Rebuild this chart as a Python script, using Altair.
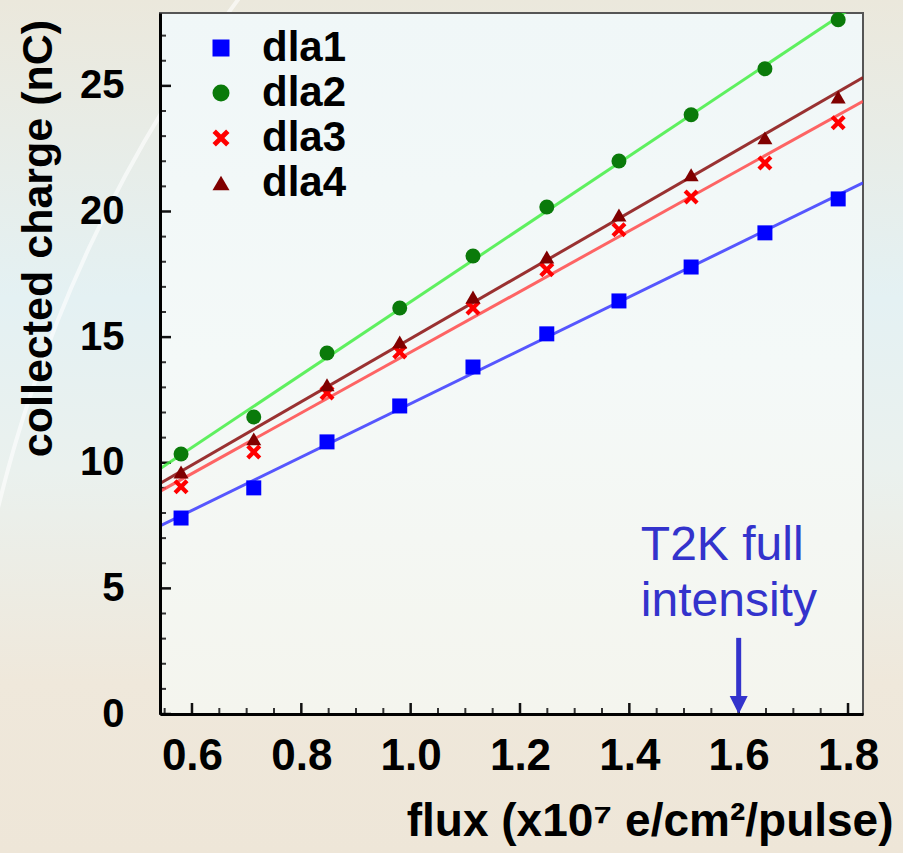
import altair as alt
import pandas as pd
import json

# ---------------- data ----------------
series = ["dla1", "dla2", "dla3", "dla4"]
flux = [0.58, 0.713, 0.847, 0.98, 1.114, 1.249, 1.381, 1.513, 1.648, 1.782]
dla1 = [7.80, 9.00, 10.83, 12.26, 13.81, 15.13, 16.44, 17.79, 19.15, 20.50]
dla2 = [10.35, 11.82, 14.37, 16.16, 18.23, 20.18, 22.01, 23.85, 25.68, 27.63]
dla3 = [9.04, 10.43, 12.78, 14.41, 16.16, 17.68, 19.27, 20.58, 21.93, 23.53]
dla4 = [9.63, 10.95, 13.10, 14.81, 16.60, 18.19, 19.86, 21.46, 22.93, 24.56]

x_major = [0.6, 0.8, 1.0, 1.2, 1.4, 1.6, 1.8]
x_minor = [0.55, 0.65, 0.7, 0.75, 0.85, 0.9, 0.95, 1.05, 1.1, 1.15, 1.25, 1.3,
           1.35, 1.45, 1.5, 1.55, 1.65, 1.7, 1.75]
y_major = [0, 5, 10, 15, 20, 25]
y_minor = [1, 2, 3, 4, 6, 7, 8, 9, 11, 12, 13, 14, 16, 17, 18, 19, 21, 22, 23, 24, 26, 27]

note_lines = ["T2K full", "intensity"]
note_x = [1.421, 1.421]
note_y = [6.13, 3.90]
arrow_x = 1.6
arrow_y_top = 3.03
arrow_y_bottom = 0.6

X_DOMAIN = [0.5415, 1.8274]
Y_DOMAIN = [0, 27.9]
W, H = 703, 701

marker_colors = ["#0000ff", "#0a7a0a", "#ff0000", "#800000"]
line_colors = ["#3a3aff", "#44ee44", "#ff4a4a", "#8a0e0e"]
cross_path = "M-1,-0.6L-0.6,-1L0,-0.4L0.6,-1L1,-0.6L0.4,0L1,0.6L0.6,1L0,0.4L-0.6,1L-1,0.6L-0.4,0Z"
shapes = ["square", "circle", cross_path, "triangle-up"]

rows = []
for name, vals in zip(series, [dla1, dla2, dla3, dla4]):
    for fx, v in zip(flux, vals):
        rows.append({"series": name, "flux": fx, "charge": v})
df = pd.DataFrame(rows)

FONT = "Liberation Sans"

xscale = alt.Scale(domain=X_DOMAIN, nice=False, zero=False)
yscale = alt.Scale(domain=Y_DOMAIN, nice=False, zero=False)

x_axis = alt.Axis(
    values=x_major, format=".1f", labelFont=FONT, labelFontSize=44,
    labelFontWeight="bold", labelColor="black", labelPadding=20,
    labelFlush=False, labelOverlap=False, tickSize=0, grid=False,
    domainColor="black", domainWidth=3, zindex=1,
    title="flux (x10⁷ e/cm²/pulse)", titleFont=FONT, titleFontSize=46,
    titleFontWeight="bold", titleColor="black", titleX=733, titleY=121,
    titleAlign="right", titleBaseline="alphabetic",
)
y_axis = alt.Axis(
    values=y_major, format="d", labelFont=FONT, labelFontSize=40,
    labelFontWeight="bold", labelColor="black", labelPadding=36,
    labelFlush=False, labelOverlap=False, tickSize=0, grid=False,
    domainColor="black", domainWidth=3, zindex=1,
    title="collected charge (nC)", titleFont=FONT, titleFontSize=43,
    titleFontWeight="bold", titleColor="black", titleX=-109, titleY=225,
    titleAlign="center", titleBaseline="alphabetic", titleAngle=270,
)

one = pd.DataFrame({"a": [0]})

# background gradient (whole canvas)
bg = alt.Chart(one).mark_rect(
    color=alt.LinearGradient(
        gradient="linear", x1=0, x2=0, y1=0, y2=1,
        stops=[
            alt.GradientStop(color="#ebe8dc", offset=0),
            alt.GradientStop(color="#e4f1f3", offset=0.35),
            alt.GradientStop(color="#eaf1ee", offset=0.55),
            alt.GradientStop(color="#efe8db", offset=0.8),
            alt.GradientStop(color="#eee6d8", offset=1),
        ],
    )
).encode(x=alt.value(-160), x2=alt.value(W + 40), y=alt.value(-13), y2=alt.value(H + 139))

# decorative swoosh behind the plot
swoosh = alt.Chart(one).mark_arc(
    color="#ffffff", opacity=0.6, radius=1392, radius2=1388, theta=4.7, theta2=5.6
).encode(x=alt.value(1349 - 160), y=alt.value(835 - 13))

# plot area
plot_bg = alt.Chart(one).mark_rect(
    stroke="#555555", strokeWidth=2,
    color=alt.LinearGradient(
        gradient="linear", x1=0, x2=0, y1=0, y2=1,
        stops=[
            alt.GradientStop(color="#f0f7f8", offset=0),
            alt.GradientStop(color="#f4f9f8", offset=0.5),
            alt.GradientStop(color="#f4f5ee", offset=1),
        ],
    )
).encode(x=alt.value(0), x2=alt.value(W), y=alt.value(0), y2=alt.value(H))

# inward ticks
xmaj_t = alt.Chart(pd.DataFrame({"t": x_major})).mark_rule(color="#111111", strokeWidth=2.5).encode(
    x=alt.X("t:Q", scale=xscale, axis=x_axis), y=alt.value(H), y2=alt.value(H - 11))
xmin_t = alt.Chart(pd.DataFrame({"t": x_minor})).mark_rule(color="#333333", strokeWidth=2).encode(
    x=alt.X("t:Q", scale=xscale), y=alt.value(H), y2=alt.value(H - 6))
ymaj_t = alt.Chart(pd.DataFrame({"t": y_major})).mark_rule(color="#111111", strokeWidth=2.5).encode(
    y=alt.Y("t:Q", scale=yscale, axis=y_axis), x=alt.value(0), x2=alt.value(11))
ymin_t = alt.Chart(pd.DataFrame({"t": y_minor})).mark_rule(color="#333333", strokeWidth=2).encode(
    y=alt.Y("t:Q", scale=yscale), x=alt.value(0), x2=alt.value(6))

# fit lines: colour taken straight from a lookup (no scale, no legend)
line_color_map = json.dumps(dict(zip(series, line_colors)))
lines = alt.Chart(df).transform_regression(
    "flux", "charge", groupby=["series"], extent=X_DOMAIN
).transform_calculate(lc=f"{line_color_map}[datum.series]").mark_line(
    strokeWidth=3, opacity=0.85, clip=True
).encode(
    x=alt.X("flux:Q", scale=xscale),
    y=alt.Y("charge:Q", scale=yscale),
    detail="series:N",
    stroke=alt.Stroke("lc:N", scale=None),
)

legend = alt.Legend(title=None, orient="none", legendX=40, legendY=14,
                    labelFont=FONT, labelFontSize=42, labelFontWeight="bold",
                    labelColor="black", symbolSize=289, symbolStrokeWidth=0,
                    labelOffset=20, rowPadding=3, padding=0)

points = alt.Chart(df).mark_point(filled=True, opacity=1, size=225).encode(
    x=alt.X("flux:Q", scale=xscale),
    y=alt.Y("charge:Q", scale=yscale),
    color=alt.Color("series:N", scale=alt.Scale(domain=series, range=marker_colors), legend=legend),
    shape=alt.Shape("series:N", scale=alt.Scale(domain=series, range=shapes), legend=legend),
)

note_df = pd.DataFrame({"text": note_lines, "x": note_x, "y": note_y})
note = alt.Chart(note_df).mark_text(
    font=FONT, fontSize=48, color="#3333cc", align="left", baseline="alphabetic"
).encode(x=alt.X("x:Q", scale=xscale), y=alt.Y("y:Q", scale=yscale), text="text:N")

arrow_df = pd.DataFrame({"x": [arrow_x], "y": [arrow_y_top], "y2": [arrow_y_bottom], "tip": [0.0]})
arrow_line = alt.Chart(arrow_df).mark_rule(color="#3333cc", strokeWidth=5).encode(
    x=alt.X("x:Q", scale=xscale), y=alt.Y("y:Q", scale=yscale), y2="y2:Q")
arrow_head = alt.Chart(arrow_df).mark_point(
    shape="M-1,-2L1,-2L0,0Z", filled=True, color="#3333cc", opacity=1, size=324
).encode(x=alt.X("x:Q", scale=xscale), y=alt.Y("tip:Q", scale=yscale))

chart = alt.layer(
    bg, swoosh, plot_bg, xmin_t, xmaj_t, ymin_t, ymaj_t, lines, points, note, arrow_line, arrow_head
).properties(
    width=W, height=H,
    autosize=alt.AutoSizeParams(type="none"),
    padding={"left": 160, "top": 13, "right": 40, "bottom": 139},
).configure_view(stroke=None)

chart.save("out.html", embed_options={"renderer": "svg", "actions": False})
